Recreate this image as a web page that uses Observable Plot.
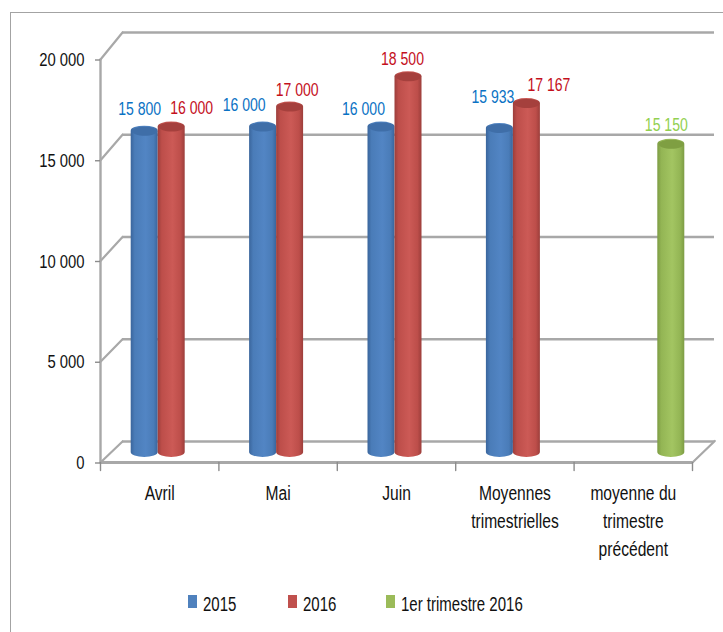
<!DOCTYPE html>
<html lang="fr">
<head>
<meta charset="utf-8">
<script src="https://cdn.jsdelivr.net/npm/d3@7"></script>
<script src="https://cdn.jsdelivr.net/npm/@observablehq/plot@0.6"></script>
<style>
html,body{margin:0;padding:0;background:#fff;width:723px;height:632px;overflow:hidden}
#page{position:relative;width:723px;height:632px;overflow:hidden;font-family:"Liberation Sans",sans-serif}
#border{position:absolute;left:10px;top:12px;width:760px;height:700px;border:1.5px solid #a3a3a3}
#chart{position:absolute;left:0;top:0}
.sw{position:absolute;top:595px;width:9px;height:13px}
.lg{position:absolute;top:592px;font-size:20px;line-height:24px;color:#111;white-space:nowrap;transform:scaleX(.75);transform-origin:left center}
</style>
</head>
<body>
<div id="page"><div id="border"></div><div id="chart"></div></div>
<script>
const categories = ["Avril", "Mai", "Juin", "Moyennes\ntrimestrielles", "moyenne du\ntrimestre\nprécédent"];
const values2015 = [15800, 16000, 16000, 15933];
const values2016 = [16000, 17000, 18500, 17167];
const valuesQ1 = [15150];
const yTicks = [0, 5000, 10000, 15000, 20000];
const seriesNames = ["2015", "2016", "1er trimestre 2016"];

const wallLine = "#a8a8a8";
const font = '"Liberation Sans",sans-serif';
const fmt = v => d3.format(",")(v).replace(",", " ");
const line = {draw(c, l) { c.moveTo(0, 0); c.lineTo(0, -l); }};
const capShape = {draw(c) {
  const a = 12.5, b = 4.5, k = 0.55;
  c.moveTo(-a, 0);
  c.bezierCurveTo(-a, -b * k, -a * k, -b, 0, -b);
  c.bezierCurveTo(a * k, -b, a, -b * k, a, 0);
  c.bezierCurveTo(a, b * k, a * k, b, 0, b);
  c.bezierCurveTo(-a * k, b, -a, b * k, -a, 0);
  c.closePath();
}};

const rows = (vals, cats) => vals.map((value, i) => ({category: cats[i], value}));
const s2015 = rows(values2015, categories);
const s2016 = rows(values2016, categories);
const sQ1 = rows(valuesQ1, categories.slice(4));

const gradient = (id, a, b, c) => `<linearGradient id="${id}" x1="0" x2="1" y1="0" y2="0">
  <stop offset="0" stop-color="${c}"/><stop offset=".15" stop-color="${a}"/><stop offset=".55" stop-color="${b}"/><stop offset=".85" stop-color="${a}"/><stop offset="1" stop-color="${c}"/></linearGradient>`;
const defs = () => {
  const g = document.createElementNS("http://www.w3.org/2000/svg", "defs");
  g.innerHTML = gradient("gBlue", "#4a7cb8", "#5285c4", "#3a659c")
    + gradient("gRed", "#bd4e4a", "#cc5a56", "#9c3e3b")
    + gradient("gGreen", "#93b554", "#a3c562", "#7d9c44");
  return g;
};

// Back wall: the depth offset grows slightly with the value (perspective)
const depth = t => ({dx: 22, dy: -21 - 6 * t / 20000});
const wall = yTicks.flatMap(t => {
  const {dx, dy} = depth(t);
  return [
    Plot.ruleY([t], {dx, dy, stroke: wallLine, strokeWidth: 2.4}),
    Plot.vector([t], {y: d => d, frameAnchor: "left", length: Math.hypot(dx, dy),
      rotate: Math.atan2(dx, -dy) * 180 / Math.PI, anchor: "start", shape: line,
      stroke: wallLine, strokeWidth: 2.2})
  ];
});

const cylinder = (data, offset, fill, cap) => [
  Plot.barY(data, {x: "category", y: "value", dx: offset, dy: -5, insetTop: -13,
    fill: `url(#${fill})`, rx: 13.5, ry: 5}),
  Plot.dot(data, {x: "category", y: "value", dx: offset, dy: -13, symbol: capShape,
    fill: cap, stroke: null, r: 5})
];

const label = (data, i, color, dx, dy) => Plot.text([data[i]], {x: "category", y: "value",
  text: d => fmt(d.value), dx, dy, fill: color, fontSize: 18});

const blueText = "#0a72c4", redText = "#c4101c", greenText = "#92d050";

const chart = Plot.plot({
  width: 723, height: 580,
  marginTop: 59, marginBottom: 118, marginLeft: 100, marginRight: 31,
  style: {fontFamily: font, background: "transparent", overflow: "visible"},
  x: {domain: categories, paddingInner: 0.772, paddingOuter: 0.386, round: false},
  y: {domain: [0, 20000], round: false},
  marks: [
    defs,
    ...wall,
    Plot.vector([0], {y: d => d, frameAnchor: "left", length: 403, rotate: 0, anchor: "start",
      shape: line, stroke: wallLine, strokeWidth: 2.4}),
    Plot.ruleY([0], {stroke: wallLine, strokeWidth: 3}),
    Plot.vector([0], {y: d => d, frameAnchor: "right", length: 31, rotate: 46, anchor: "start",
      shape: line, stroke: wallLine, strokeWidth: 2.2}),
    Plot.vector(categories, {x: d => d, y: () => 0, dx: -59.2, length: 8, rotate: 180, anchor: "start",
      shape: line, stroke: "#8c8c8c", strokeWidth: 1.4}),
    Plot.vector(categories.slice(4), {x: d => d, y: () => 0, dx: 59.2, length: 8, rotate: 180, anchor: "start",
      shape: line, stroke: "#8c8c8c", strokeWidth: 1.4}),
    Plot.axisY({ticks: yTicks, tickSize: 5, tickPadding: 11, tickFormat: fmt, label: null, dy: 0.5,
      fontSize: 19, stroke: "#8c8c8c", strokeWidth: 1.4, color: "#111"}),
    Plot.axisX({tickSize: 0, tickPadding: 17, label: null, fontSize: 20, lineHeight: 1.42, color: "#111", lineAnchor: "top"}),
    ...cylinder(s2015, -15, "gBlue", "#3f6ea8"),
    ...cylinder(s2016, 12, "gRed", "#a5403d"),
    ...cylinder(sQ1, 38, "gGreen", "#7f9f42"),
    label(s2015, 0, blueText, -20, -35),
    label(s2016, 0, redText, 32, -32),
    label(s2015, 1, blueText, -34, -35),
    label(s2016, 1, redText, 19, -30),
    label(s2015, 2, blueText, -33, -31),
    label(s2016, 2, redText, 6, -30),
    label(s2015, 3, blueText, -22, -44),
    label(s2016, 3, redText, 34, -31),
    label(sQ1, 0, greenText, 33, -32)
  ]
});
document.getElementById("chart").appendChild(chart);

// The reference type is condensed: narrow each run of text by the same factor
const condense = el => {
  el.setAttribute("textLength", (el.getComputedTextLength() * 0.78).toFixed(2));
  el.setAttribute("lengthAdjust", "spacingAndGlyphs");
};
chart.querySelectorAll("text").forEach(t => {
  const spans = t.querySelectorAll("tspan");
  if (spans.length) spans.forEach(condense); else condense(t);
});

// Legend, below the chart
const page = document.getElementById("page");
const swatchColors = ["#4f81bd", "#c0504d", "#9bbb59"];
const swatchLeft = [188, 288, 386];
seriesNames.forEach((name, i) => {
  const s = document.createElement("div");
  s.className = "sw";
  s.style.left = swatchLeft[i] + "px";
  s.style.background = swatchColors[i];
  page.appendChild(s);
  const t = document.createElement("div");
  t.className = "lg";
  t.style.left = (swatchLeft[i] + 15) + "px";
  t.textContent = name;
  page.appendChild(t);
});
</script>
</body>
</html>
